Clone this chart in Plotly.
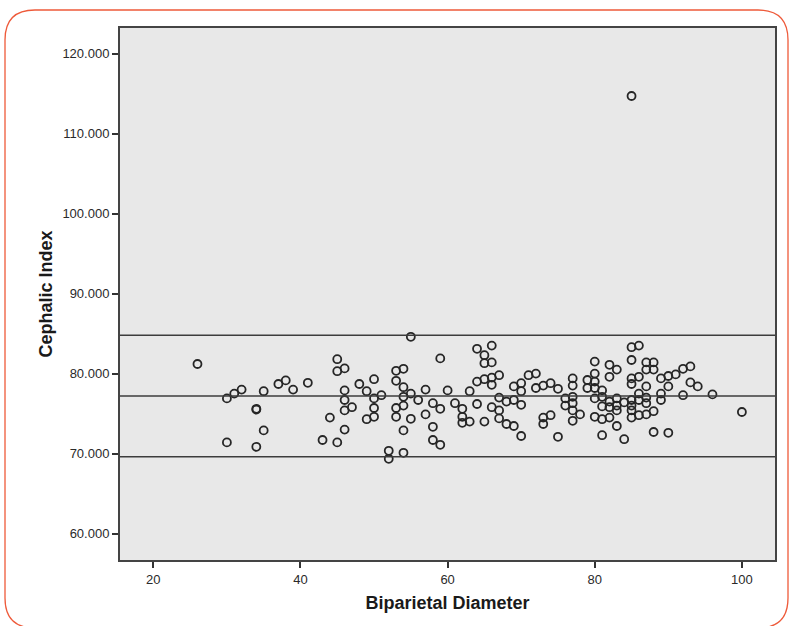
import plotly.graph_objects as go

# Biparietal diameter (x) and cephalic index (y)
bpd = [26, 30, 31, 32, 30, 34, 34, 34, 35, 35, 37, 38, 39, 41, 43, 44,
       45, 45, 46, 45, 46, 46, 46, 47, 46, 48, 49, 49, 50, 50, 50, 50,
       51, 52, 52, 53, 54, 53, 54, 54, 55, 53, 54, 53, 55, 54, 54, 55,
       56, 57, 57, 58, 58, 58, 59, 59, 59, 60, 61, 62, 62, 62, 63, 63,
       64, 65, 66, 65, 66, 64, 65, 66, 66, 67, 64, 65, 66, 67, 67, 67,
       68, 68, 69, 69, 69, 70, 70, 70, 70, 71, 72, 72, 73, 73, 73, 74,
       74, 75, 75, 76, 76, 77, 77, 77, 77, 77, 77, 78, 79, 79, 80, 80,
       80, 80, 80, 80, 81, 81, 81, 81, 81, 82, 83, 82, 82, 82, 82, 83,
       83, 83, 83, 84, 84, 85, 86, 85, 85, 85, 85, 85, 85, 85, 86, 86,
       86, 86, 87, 88, 87, 88, 87, 87, 87, 87, 88, 88, 89, 89, 89, 90,
       90, 90, 91, 92, 93, 92, 93, 94, 96, 100, 85]
ci = [81.2, 76.9, 77.5, 78.0, 71.4, 75.5, 75.6, 70.85, 77.8, 72.9, 78.7, 79.15,
      78.0, 78.85, 71.7, 74.5, 81.8, 80.3, 80.65, 71.4, 77.9, 76.7, 75.4, 75.8,
      73.0, 78.7, 77.8, 74.3, 79.3, 76.9, 75.7, 74.6, 77.3, 70.35, 69.35, 80.35,
      80.6, 79.1, 78.3, 77.1, 77.5, 75.7, 76.0, 74.6, 74.35, 72.9, 70.1, 84.6,
      76.7, 78.0, 74.9, 76.3, 73.35, 71.7, 81.9, 75.6, 71.1, 77.9, 76.3, 75.6,
      74.6, 73.85, 77.8, 74.0,
      83.1, 82.3, 83.5, 81.3, 81.4, 79.0, 79.3, 79.5, 78.6, 79.8, 76.2, 74.0,
      75.8, 77.0, 75.4, 74.4, 76.5, 73.7, 78.4, 76.7, 73.45, 78.8, 77.8, 76.1,
      72.2, 79.8, 80.0, 78.2, 78.5, 74.5, 73.7, 78.8, 74.8, 78.1, 72.1, 76.9,
      76.0, 79.4, 78.5, 77.1, 76.3, 75.4, 74.1, 74.9, 79.2, 78.2, 81.5, 80.0,
      79.0, 78.2, 76.9, 74.6, 77.9, 77.1, 75.9, 74.3, 72.3, 81.1, 80.5, 79.6,
      76.5, 75.8, 74.5, 76.9, 76.0, 75.4, 73.45, 76.4, 71.8, 83.3, 83.5, 81.7,
      79.4, 78.7, 76.7, 76.0, 75.4, 74.5, 79.6, 77.5, 76.7, 74.8, 81.4, 81.4,
      80.5, 80.5, 78.4, 77.0, 76.3, 74.9, 75.3, 72.7, 79.4, 77.5, 76.7, 79.7,
      78.4, 72.6, 79.9, 80.6, 80.9, 77.3, 78.9, 78.4, 77.4, 75.2, 114.7]

# Reference lines: mean and mean +/- 1.96 SD
ref_lines = [84.8, 77.2, 69.6]

x_ticks = [20, 40, 60, 80, 100]
y_ticks = [60, 70, 80, 90, 100, 110, 120]
y_tick_text = ["%.3f" % v for v in y_ticks]

x_range = [15.47, 104.5]
y_range = [56.7, 123.2]

fig = go.Figure()
fig.add_trace(go.Scatter(
    x=bpd, y=ci, mode="markers",
    marker=dict(symbol="circle-open", size=8, color="#262626",
                line=dict(width=1.8, color="#262626")),
    showlegend=False, hoverinfo="x+y"))

for v in ref_lines:
    fig.add_shape(type="line", xref="paper", x0=0, x1=1, yref="y", y0=v, y1=v,
                  line=dict(color="#3c3c3c", width=1.6), layer="above")

# Rounded red frame around the whole graphic (paper coordinates)
L, R, T, B = 120, 775, 28, 560
W, H = R - L, B - T
def px(x):
    return (x - L) / W
def py(y):
    return (B - y) / H
x0, x1 = px(5), px(788)
y0, y1 = py(628), py(10)
rx, ry = 30 / W, 30 / H
path = (f"M {x0+rx},{y1} L {x1-rx},{y1} Q {x1},{y1} {x1},{y1-ry} "
        f"L {x1},{y0+ry} Q {x1},{y0} {x1-rx},{y0} L {x0+rx},{y0} "
        f"Q {x0},{y0} {x0},{y0+ry} L {x0},{y1-ry} Q {x0},{y1} {x0+rx},{y1} Z")
fig.add_shape(type="path", path=path, xref="paper", yref="paper",
              line=dict(color="#ee5a3a", width=1.3), layer="below")

fig.update_layout(
    width=790, height=626,
    margin=dict(l=L, r=790 - R, t=T, b=626 - B),
    paper_bgcolor="white",
    plot_bgcolor="#e8e8e8",
    font=dict(family="Liberation Sans, Arial, sans-serif", color="#2a2a2a", size=13),
    xaxis=dict(range=x_range, tickmode="array", tickvals=x_ticks,
               ticks="outside", ticklen=6, tickwidth=2, tickcolor="#333",
               showgrid=False, zeroline=False, showline=True, mirror=True,
               linecolor="#444", linewidth=2,
               title=dict(text="<b>Biparietal Diameter</b>", standoff=11,
                          font=dict(size=18, color="#1a1a1a"))),
    yaxis=dict(range=y_range, tickmode="array", tickvals=y_ticks, ticktext=y_tick_text,
               ticks="outside", ticklen=6, tickwidth=2, tickcolor="#333",
               showgrid=False, zeroline=False, showline=True, mirror=True,
               linecolor="#444", linewidth=2,
               title=dict(text="<b>Cephalic Index</b>", standoff=5,
                          font=dict(size=18, color="#1a1a1a"))),
)

fig.write_html("out.html", config={"displayModeBar": False},
               post_script="document.body.style.margin='0';")
